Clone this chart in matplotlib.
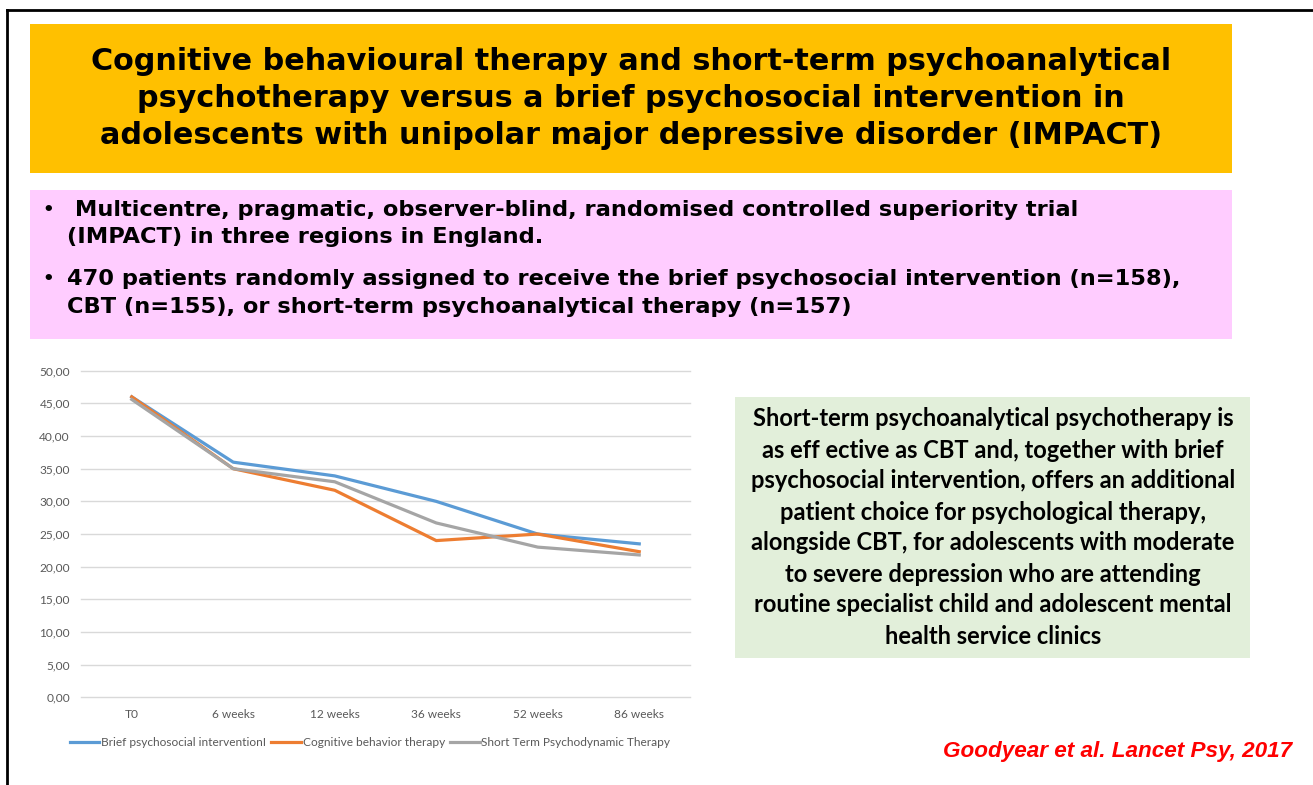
import matplotlib
matplotlib.use("Agg")
import matplotlib.pyplot as plt
from matplotlib.patches import Rectangle
from matplotlib.lines import Line2D

# ---- data ----
categories = ["T0", "6 weeks", "12 weeks", "36 weeks", "52 weeks", "86 weeks"]
brief = [46.0, 36.0, 33.9, 30.0, 25.0, 23.5]
cbt = [46.0, 35.0, 31.7, 24.0, 25.0, 22.3]
stpp = [45.6, 35.0, 33.0, 26.7, 23.0, 21.8]
series_names = ["Brief psychosocial interventionI", "Cognitive behavior therapy",
                "Short Term Psychodynamic Therapy"]
y_ticks = [0, 5, 10, 15, 20, 25, 30, 35, 40, 45, 50]

title_lines = ["Cognitive behavioural therapy and short-term psychoanalytical",
               "psychotherapy versus a brief psychosocial intervention in",
               "adolescents with unipolar major depressive disorder (IMPACT)"]
bullet_lines = [[" Multicentre, pragmatic, observer-blind, randomised controlled superiority trial",
                 "(IMPACT) in three regions in England."],
                ["470 patients randomly assigned to receive the brief psychosocial intervention (n=158),",
                 "CBT (n=155), or short-term psychoanalytical therapy (n=157)"]]
box_lines = ["Short-term psychoanalytical psychotherapy is",
             "as eff ective as CBT and, together with brief",
             "psychosocial intervention, offers an additional",
             "patient choice for psychological therapy,",
             "alongside CBT, for adolescents with moderate",
             "to severe depression who are attending",
             "routine specialist child and adolescent mental",
             "health service clinics"]
citation = "Goodyear et al. Lancet Psy, 2017"

W, H = 1313, 785
fig = plt.figure(figsize=(W / 100, H / 100), dpi=100)

# background axes in pixel coordinates
bg = fig.add_axes([0, 0, 1, 1])
bg.set_xlim(0, W)
bg.set_ylim(H, 0)
bg.axis("off")

# slide border
bg.add_line(Line2D([7, W], [10, 10], color="black", lw=2.0))
bg.add_line(Line2D([7, 7], [10, H], color="black", lw=2.0))

# title box
bg.add_patch(Rectangle((30, 24), 1202, 149, facecolor="#FFC000", edgecolor="none"))
for i, line in enumerate(title_lines):
    bg.text(631, 62 + i * 36.5, line, ha="center", va="center", fontsize=21.8,
            fontweight="bold", family="DejaVu Sans", color="black")

# pink bullet box
bg.add_patch(Rectangle((30, 190), 1202, 149, facecolor="#FFCCFF", edgecolor="none"))
bullet_y = [[210, 237], [279, 307]]
for b, lines in enumerate(bullet_lines):
    bg.text(42, bullet_y[b][0], "\u2022", ha="left", va="center", fontsize=13,
            fontweight="bold", family="DejaVu Sans")
    for j, line in enumerate(lines):
        bg.text(67, bullet_y[b][j], line, ha="left", va="center", fontsize=16.2,
                fontweight="bold", family="DejaVu Sans")

# green box
bg.add_patch(Rectangle((735, 397), 515, 261, facecolor="#E2EFDA", edgecolor="none"))
for i, line in enumerate(box_lines):
    bg.text(993, 419 + i * 31, line, ha="center", va="center", fontsize=17,
            fontweight="bold", family="Lato", color="black")

# citation
bg.text(1292, 752, citation, ha="right", va="center", fontsize=16.2,
        fontweight="bold", fontstyle="italic", family="Liberation Sans", color="#FF0000")

# ---- chart ----
left, right, top, bottom = 81, 690, 370.7, 697.4
ax = fig.add_axes([left / W, (H - bottom) / H, (right - left) / W, (bottom - top) / H])
ax.patch.set_alpha(0)
x = list(range(len(categories)))
colors = ["#5B9BD5", "#ED7D31", "#A5A5A5"]
for vals, name, c in zip([brief, cbt, stpp], series_names, colors):
    ax.plot(x, vals, color=c, lw=2.3, label=name, solid_joinstyle="round", zorder=3)
ax.set_xlim(-0.5, len(categories) - 0.5)
ax.set_ylim(0, 50)
ax.set_yticks(y_ticks)
ax.set_yticklabels([f"{v:.2f}".replace(".", ",") for v in y_ticks])
ax.set_xticks(x)
ax.set_xticklabels(categories)
ax.tick_params(length=0, labelsize=8.6, labelcolor="#595959", pad=8)
ax.tick_params(axis="y", pad=8)
for lab in ax.get_xticklabels() + ax.get_yticklabels():
    lab.set_family("Lato")
ax.grid(axis="y", color="#D9D9D9", lw=1.0)
ax.set_axisbelow(True)
for s in ax.spines.values():
    s.set_visible(False)
for gl in ax.get_ygridlines():
    gl.set_clip_on(False)

leg = fig.legend(loc="center", bbox_to_anchor=(370 / W, (H - 743) / H), ncol=3,
                 frameon=False, handlelength=2.5, handletextpad=0.15,
                 columnspacing=0.4, prop={"family": "Lato", "size": 8.6})
for t in leg.get_texts():
    t.set_color("#595959")

fig.savefig("out.png", dpi=100)
